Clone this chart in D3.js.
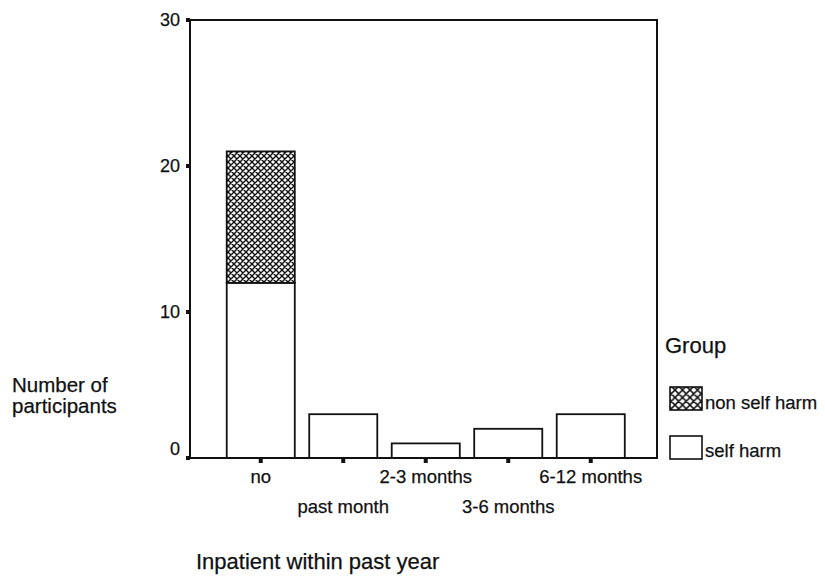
<!DOCTYPE html>
<html>
<head>
<meta charset="utf-8">
<script src="https://cdn.jsdelivr.net/npm/d3@7"></script>
<style>
  body { margin: 0; background: #fff; }
  text { font-family: "Liberation Sans", Arial, sans-serif; fill: #111; stroke: #111; stroke-width: 0.25px; }
</style>
</head>
<body>
<svg id="chart" width="825" height="578"></svg>
<script>
// Values
var categories = ['no', 'past month', '2-3 months', '3-6 months', '6-12 months'];
var selfHarm = [12, 3, 1, 2, 3];
var nonSelfHarm = [9, 0, 0, 0, 0];
var groups = ['self harm', 'non self harm'];
var yTicks = [0, 10, 20, 30];

var svg = d3.select('#chart');

// plot frame (not "top": that name is taken by window.top)
var frameL = 190, frameR = 657, frameT = 20, frameB = 458;

var x = d3.scaleBand()
  .domain(categories)
  .range([219.5, 632])
  .paddingInner(0.175)
  .paddingOuter(0.0875);

var y = d3.scaleLinear().domain([0, 30]).range([frameB, frameT]);

// cross hatch patterns for non self harm (legend swatch is a bit coarser)
var defs = svg.append('defs');
function crossHatch(id, p, w) {
  var pat = defs.append('pattern')
    .attr('id', id)
    .attr('patternUnits', 'userSpaceOnUse')
    .attr('width', p).attr('height', p);
  pat.append('rect').attr('width', p).attr('height', p).attr('fill', '#fff');
  pat.append('path')
    .attr('d', 'M0,0 L' + p + ',' + p + ' M0,' + p + ' L' + p + ',0' +
      ' M-1,1 L1,-1 M' + (p - 1) + ',' + (p + 1) + ' L' + (p + 1) + ',' + (p - 1) +
      ' M-1,' + (p - 1) + ' L1,' + (p + 1) + ' M' + (p - 1) + ',-1 L' + (p + 1) + ',1')
    .attr('stroke', '#111').attr('stroke-width', w);
}
crossHatch('xhatch', 6, 1.4);
crossHatch('xhatchLegend', 7.5, 1.5);

var rows = categories.map(function (c, i) {
  return { cat: c, 'self harm': selfHarm[i], 'non self harm': nonSelfHarm[i] };
});
var stacked = d3.stack().keys(groups)(rows);

var fills = { 'self harm': '#fff', 'non self harm': 'url(#xhatch)' };
var legendFills = { 'self harm': '#fff', 'non self harm': 'url(#xhatchLegend)' };

svg.append('g').selectAll('g')
  .data(stacked)
  .enter().append('g')
  .attr('fill', function (d) { return fills[d.key]; })
  .selectAll('rect')
  .data(function (d) { return d.filter(function (p) { return p[1] > p[0]; }); })
  .enter().append('rect')
  .attr('x', function (d) { return x(d.data.cat); })
  .attr('y', function (d) { return y(d[1]); })
  .attr('width', x.bandwidth())
  .attr('height', function (d) { return y(d[0]) - y(d[1]); })
  .attr('stroke', '#111')
  .attr('stroke-width', 1.8);

// frame
svg.append('rect')
  .attr('x', frameL).attr('y', frameT)
  .attr('width', frameR - frameL).attr('height', frameB - frameT)
  .attr('fill', 'none').attr('stroke', '#111').attr('stroke-width', 2);

// y ticks
var yAxis = svg.append('g');
yAxis.selectAll('rect')
  .data(yTicks).enter().append('rect')
  .attr('x', frameL - 4).attr('y', function (d) { return y(d) - 2; })
  .attr('width', 4).attr('height', 4).attr('fill', '#111');
yAxis.selectAll('text')
  .data(yTicks).enter().append('text')
  .attr('x', 180).attr('y', function (d) { return y(d) + (d === 0 ? -3 : 6); })
  .attr('text-anchor', 'end')
  .style('font-size', '18px')
  .text(function (d) { return d; });

// x ticks
var xAxis = svg.append('g');
xAxis.selectAll('rect')
  .data(categories).enter().append('rect')
  .attr('x', function (d) { return x(d) + x.bandwidth() / 2 - 2; })
  .attr('y', frameB + 1).attr('width', 4).attr('height', 4)
  .attr('fill', '#111');
xAxis.selectAll('text')
  .data(categories).enter().append('text')
  .attr('x', function (d) { return x(d) + x.bandwidth() / 2; })
  .attr('y', function (d, i) { return i % 2 === 0 ? 483 : 513; })
  .attr('text-anchor', 'middle')
  .style('font-size', '18.5px')
  .text(function (d) { return d; });

// axis titles
svg.append('text').attr('x', 196).attr('y', 569)
  .style('font-size', '22px').text('Inpatient within past year');
svg.append('text').attr('x', 12).attr('y', 392)
  .style('font-size', '20.5px').text('Number of');
svg.append('text').attr('x', 12).attr('y', 413)
  .style('font-size', '20.5px').text('participants');

// legend
var legend = svg.append('g');
legend.append('text').attr('x', 665).attr('y', 353)
  .style('font-size', '22px').text('Group');
var legendItems = [
  { key: 'non self harm', y: 387, base: 409 },
  { key: 'self harm', y: 436, base: 457 }
];
var li = legend.selectAll('g.item').data(legendItems).enter().append('g');
li.append('rect')
  .attr('x', 670).attr('y', function (d) { return d.y; })
  .attr('width', 32).attr('height', 23)
  .attr('fill', function (d) { return legendFills[d.key]; })
  .attr('stroke', '#111').attr('stroke-width', 1.6);
li.append('text')
  .attr('x', 705).attr('y', function (d) { return d.base; })
  .style('font-size', '18.5px')
  .text(function (d) { return d.key; });
</script>
</body>
</html>
